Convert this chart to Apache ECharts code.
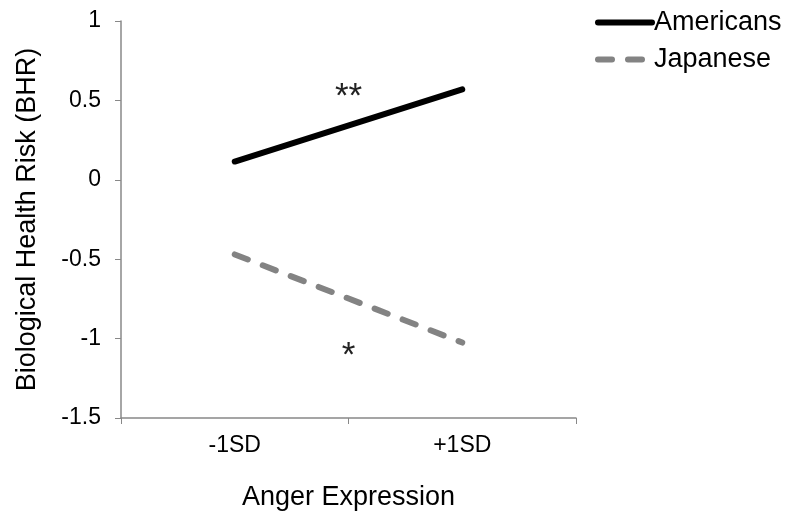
<!DOCTYPE html>
<html>
<head>
<meta charset="utf-8">
<script src="https://cdn.jsdelivr.net/npm/echarts@6/dist/echarts.min.js"></script>
<style>
  html, body { margin: 0; padding: 0; background: #fff; }
  #chart { width: 788px; height: 516px; }
</style>
</head>
<body>
<div id="chart"></div>
<script>
// data
var categories = ["-1SD", "+1SD"];
var americans = [0.115, 0.57];
var japanese = [-0.47, -1.025];
// significance marks: [text, y value]
var marks = [["**", 0.52], ["*", -1.11]];

var chart = echarts.init(document.getElementById("chart"));
var font = "Liberation Sans, Arial, sans-serif";

var option = {
    animation: false,
    grid: { left: 121, right: 212, top: 21, bottom: 98 },
    legend: {
        orient: "vertical",
        left: 595,
        top: 9,
        padding: 0,
        itemWidth: 54,
        itemHeight: 14,
        itemGap: 10,
        itemStyle: { opacity: 0 },
        lineStyle: { width: 6, cap: "round" },
        textStyle: { fontFamily: font, fontSize: 27, color: "#000", padding: [0, 0, 0, -3] },
        data: ["Americans", "Japanese"]
    },
    xAxis: {
        type: "category",
        data: categories,
        boundaryGap: true,
        name: "Anger Expression",
        nameLocation: "middle",
        nameGap: 66,
        nameTextStyle: { fontFamily: font, fontSize: 27, color: "#000" },
        axisLine: { onZero: false, lineStyle: { color: "#888", width: 1.5 } },
        axisTick: { show: true, length: 6, lineStyle: { color: "#888" } },
        axisLabel: { fontFamily: font, fontSize: 23, color: "#000", margin: 16 }
    },
    yAxis: {
        type: "value",
        min: -1.5,
        max: 1,
        interval: 0.5,
        name: "Biological Health Risk (BHR)",
        nameLocation: "middle",
        nameGap: 80,
        nameTextStyle: { fontFamily: font, fontSize: 27, color: "#000" },
        axisLine: { show: true, lineStyle: { color: "#888", width: 1.5 } },
        axisTick: { show: true, length: 6, lineStyle: { color: "#888" } },
        splitLine: { show: false },
        axisLabel: { fontFamily: font, fontSize: 23, color: "#000", margin: 20 }
    },
    series: [
        {
            name: "Americans",
            type: "line",
            data: americans,
            symbol: "none",
            lineStyle: { color: "#000", width: 6, cap: "round" },
            itemStyle: { color: "#000" }
        },
        {
            name: "Japanese",
            type: "line",
            data: japanese,
            symbol: "none",
            lineStyle: { color: "#838383", width: 6, type: [14, 16], cap: "round" },
            itemStyle: { color: "#838383" }
        }
    ]
};

chart.setOption(option);

// place significance marks between the two categories
var x0 = chart.convertToPixel({ xAxisIndex: 0 }, categories[0]);
var x1 = chart.convertToPixel({ xAxisIndex: 0 }, categories[1]);
var midX = (x0 + x1) / 2;
chart.setOption({
    graphic: marks.map(function (m) {
        return {
            type: "text",
            x: midX,
            y: chart.convertToPixel({ yAxisIndex: 0 }, m[1]),
            style: {
                text: m[0],
                fontFamily: font,
                fontSize: 35,
                fill: "#222",
                align: "center",
                verticalAlign: "middle"
            }
        };
    })
});
</script>
</body>
</html>
